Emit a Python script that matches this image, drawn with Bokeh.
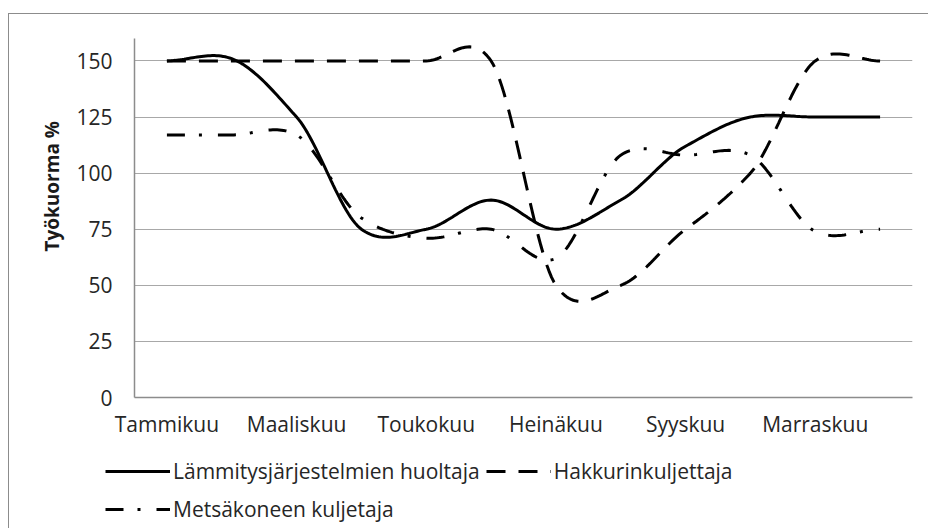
import numpy as np
from bokeh.plotting import figure
from bokeh.models import Range1d, FixedTicker, Legend, LegendItem, Title
from bokeh.embed import file_html
from bokeh.resources import INLINE

# ---- data ----
months = ["Tammikuu", "Helmikuu", "Maaliskuu", "Huhtikuu", "Toukokuu", "Kesäkuu",
          "Heinäkuu", "Elokuu", "Syyskuu", "Lokakuu", "Marraskuu", "Joulukuu"]
labeled_month_idx = [0, 2, 4, 6, 8, 10]
y_ticks = [0, 25, 50, 75, 100, 125, 150]
y_title = "Työkuorma %"

names = ["Lämmitysjärjestelmien huoltaja", "Hakkurinkuljettaja", "Metsäkoneen kuljetaja"]
huoltaja = [150, 151, 125, 75, 75, 88, 75, 88, 112, 125, 125, 125]
hakkuri = [150, 150, 150, 150, 150, 150, 50, 50, 75, 100, 150, 150]
metsakone = [117, 117, 117, 80, 71, 75, 62, 108, 108, 108, 74, 75]


def smooth_line(values, steps=30, k=0.85):
    """Cardinal spline through the monthly values (like a spreadsheet 'smoothed line')."""
    y = np.asarray(values, dtype=float)
    n = len(y)
    xs, ys = [], []
    for i in range(n - 1):
        y0 = y[i - 1] if i > 0 else y[i]
        y1, y2 = y[i], y[i + 1]
        y3 = y[i + 2] if i + 2 < n else y[i + 1]
        m1 = k * (y2 - y0) / 2.0
        m2 = k * (y3 - y1) / 2.0
        t = np.linspace(0, 1, steps, endpoint=(i == n - 2))
        h00 = 2 * t**3 - 3 * t**2 + 1
        h10 = t**3 - 2 * t**2 + t
        h01 = -2 * t**3 + 3 * t**2
        h11 = t**3 - t**2
        xs.extend(list(i + t))
        ys.extend(list(h00 * y1 + h10 * m1 + h01 * y2 + h11 * m2))
    return xs, ys


FONT = "Open Sans"
TXT = "#262626"
BORDER = "1px solid #8c8c8c"

p = figure(width=920, height=430, output_backend="svg", toolbar_location=None,
           x_range=Range1d(-0.5, 11.5), y_range=Range1d(0, 160),
           min_border_left=125, min_border_right=17, min_border_top=24, min_border_bottom=47)
p.margin = (13, 0, 0, 8)
p.styles = {"border-left": BORDER, "border-top": BORDER}
p.outline_line_color = None
p.background_fill_color = "white"
p.border_fill_color = "white"

p.xgrid.grid_line_color = None
p.ygrid.grid_line_color = "#a8a8a8"
p.ygrid.grid_line_width = 1
p.ygrid.ticker = FixedTicker(ticks=y_ticks)

p.xaxis.ticker = FixedTicker(ticks=labeled_month_idx)
p.xaxis.major_label_overrides = {i: months[i] for i in labeled_month_idx}
p.yaxis.ticker = FixedTicker(ticks=y_ticks)
for ax in (p.xaxis[0], p.yaxis[0]):
    ax.axis_line_color = "#8c8c8c"
    ax.axis_line_width = 1.5
    ax.major_tick_line_color = None
    ax.minor_tick_line_color = None
    ax.major_label_text_font = FONT
    ax.major_label_text_font_size = "21px"
    ax.major_label_text_color = TXT
p.xaxis.major_label_standoff = 6
p.yaxis.major_label_standoff = 16

p.add_layout(Title(text=y_title, align="left", offset=146, standoff=18,
                   text_font=FONT, text_font_size="19px", text_font_style="bold",
                   text_color="#1a1a1a"), "left")

styles = [dict(line_dash="solid"), dict(line_dash="19 13"), dict(line_dash="18 14 3 16")]
for vals, st in zip([huoltaja, hakkuri, metsakone], styles):
    xs, ys = smooth_line(vals)
    p.line(xs, ys, line_color="black", line_width=3, **st)

# ---- legend strip below the chart (keys are single off-range points, so only the legend shows) ----
q = figure(width=920, height=85, output_backend="svg", toolbar_location=None,
           x_range=Range1d(0, 1), y_range=Range1d(0, 1),
           x_axis_location=None, y_axis_location=None,
           min_border_left=0, min_border_right=0, min_border_top=0, min_border_bottom=0)
q.margin = (0, 0, 0, 8)
q.styles = {"border-left": BORDER}
q.outline_line_color = None
q.grid.visible = False
q.background_fill_color = "white"
q.border_fill_color = "white"

keys = [q.line(x=[-1], y=[-1], line_color="black", line_width=3, **st) for st in styles]
legend = Legend(items=[LegendItem(label=n, renderers=[r]) for n, r in zip(names, keys)],
                orientation="horizontal", ncols=2, location=(96, 3),
                glyph_width=65, glyph_height=32, label_height=32, spacing=6,
                label_standoff=3, padding=0, margin=0,
                label_text_font=FONT, label_text_font_size="21px", label_text_color=TXT,
                border_line_color=None, background_fill_alpha=0)
q.add_layout(legend, "center")

open("out.html", "w").write(file_html([p, q], INLINE))
